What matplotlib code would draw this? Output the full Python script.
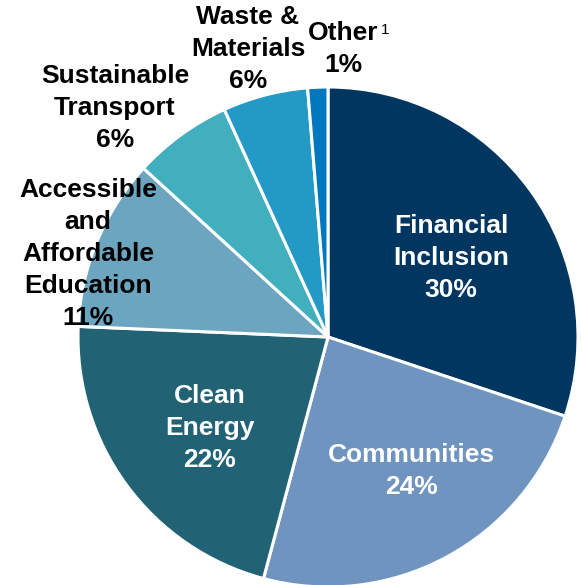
import matplotlib.pyplot as plt

plt.rcParams['font.family'] = ['Liberation Sans', 'DejaVu Sans']

categories = ["Financial\nInclusion", "Communities", "Clean\nEnergy",
              "Accessible\nand\nAffordable\nEducation", "Sustainable\nTransport",
              "Waste &\nMaterials", "Other"]
# wedge sizes, printed labels as shown
shares = [30.1, 24.0, 21.5, 11.1, 6.4, 5.5, 1.3]
pct_labels = ["30%", "24%", "22%", "11%", "6%", "6%", "1%"]
colors = ["#003660", "#7094C0", "#226275", "#6BA5BF", "#42AFBF", "#2399C5", "#0078C0"]

W, H = 582, 585
fig = plt.figure(figsize=(W / 100, H / 100), dpi=100)
ax = fig.add_axes([0, 0, 1, 1])

# pixel coords, y flipped -> counterclock=True runs clockwise on screen
ax.pie(shares, colors=colors, startangle=-90, counterclock=True,
       center=(328, 337), radius=250, frame=True,
       wedgeprops=dict(edgecolor="white", linewidth=2.2))
ax.set_xlim(0, W)
ax.set_ylim(H, 0)
ax.axis("off")

label_pos = [(451, 258), (411, 471), (210, 428), (88, 254), (115, 108), (248, 49), (343, 49)]
label_col = ["white", "white", "white", "black", "black", "black", "black"]

for name, pct, (x, y), c in zip(categories, pct_labels, label_pos, label_col):
    ax.text(x, y, f"{name}\n{pct}", ha="center", va="center", color=c,
            fontsize=19, fontweight="bold", linespacing=1.41)

# superscript on "Other"
ax.text(381, 30, "1", ha="left", va="center", fontsize=11, color="black")

fig.savefig("out.png", dpi=100)
